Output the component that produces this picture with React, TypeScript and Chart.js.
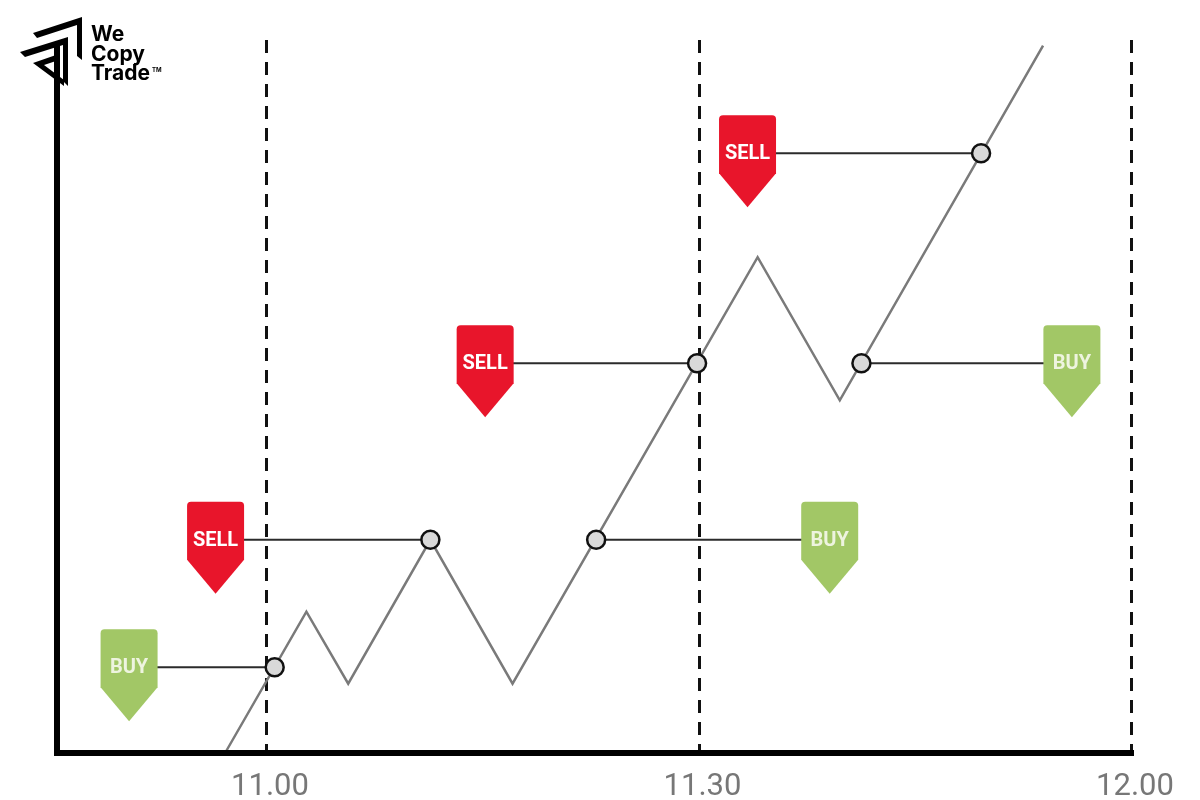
import React, { useEffect, useRef } from "react";
import { Chart, registerables } from "chart.js";

Chart.register(...registerables);

// Time axis in minutes since midnight (11.00 = 660)
const tickValues = [660, 690, 720];
const tickLabels = ["11.00", "11.30", "12.00"];

// Price path (vertices of the zig-zag)
const priceTimes = [657.2, 662.8, 665.7, 671.4, 677.1, 694.1, 699.8, 713.9];
const priceValues = [0, 19.7, 9.6, 29.8, 9.6, 69.5, 49.4, 99.2];

// Signals
const signalTypes = ["BUY", "SELL", "BUY", "SELL", "BUY", "SELL"];
const signalLevels = [11.9, 29.8, 29.8, 54.6, 54.6, 84.1];
const fillTimes = [660.6, 671.4, 682.9, 689.9, 701.3, 709.6];
const tagTimes = [650.5, 656.5, 699.1, 675.2, 715.9, 693.4];

const RED = "#e8152b";
const GREEN = "#a2c766";

const overlayPlugin = {
  id: "overlay",
  beforeDatasetsDraw(chart: any) {
    const { ctx, chartArea, scales } = chart;
    const x = scales.x;
    ctx.save();
    ctx.strokeStyle = "#111";
    ctx.lineWidth = 3;
    ctx.setLineDash([13, 9]);
    tickValues.forEach((v) => {
      const px = Math.round(x.getPixelForValue(v)) + 0.5;
      ctx.beginPath();
      ctx.moveTo(px, chartArea.top);
      ctx.lineTo(px, chartArea.bottom);
      ctx.stroke();
    });
    ctx.restore();
  },
  afterDatasetsDraw(chart: any) {
    const { ctx, chartArea, scales } = chart;
    const x = scales.x;
    const y = scales.y;
    ctx.save();
    // axes
    ctx.fillStyle = "#000";
    ctx.fillRect(chartArea.left - 3, chartArea.bottom - 2, chartArea.right - chartArea.left + 6, 6);
    ctx.fillRect(chartArea.left - 3, 46, 6, chartArea.bottom - 46 + 4);
    // tags
    signalTypes.forEach((type, i) => {
      const cx = x.getPixelForValue(tagTimes[i]);
      const ly = y.getPixelForValue(signalLevels[i]);
      const hw = 28.5;
      const top = ly - 38;
      const rb = top + 58;
      const tip = top + 92;
      const r = 4;
      ctx.beginPath();
      ctx.moveTo(cx - hw, rb);
      ctx.lineTo(cx - hw, top + r);
      ctx.quadraticCurveTo(cx - hw, top, cx - hw + r, top);
      ctx.lineTo(cx + hw - r, top);
      ctx.quadraticCurveTo(cx + hw, top, cx + hw, top + r);
      ctx.lineTo(cx + hw, rb);
      ctx.lineTo(cx, tip);
      ctx.closePath();
      ctx.fillStyle = type === "BUY" ? GREEN : RED;
      ctx.fill();
      ctx.fillStyle = type === "BUY" ? "#eef4df" : "#ffffff";
      ctx.font = "bold 20px Roboto";
      ctx.textAlign = "center";
      ctx.textBaseline = "middle";
      ctx.fillText(type, cx, ly + 1);
    });
    ctx.restore();
  },
  afterDraw(chart: any) {
    const { ctx, scales } = chart;
    const x = scales.x;
    ctx.save();
    // tick labels
    ctx.fillStyle = "#777";
    ctx.font = "31px Roboto";
    ctx.textAlign = "center";
    ctx.textBaseline = "middle";
    tickValues.forEach((v, i) => {
      ctx.fillText(tickLabels[i], x.getPixelForValue(v) + 4, 787);
    });
    // logo
    ctx.fillStyle = "#000";
    const poly = (pts: number[][]) => {
      ctx.beginPath();
      ctx.moveTo(pts[0][0], pts[0][1]);
      for (let k = 1; k < pts.length; k++) ctx.lineTo(pts[k][0], pts[k][1]);
      ctx.closePath();
      ctx.fill();
    };
    poly([[33, 33], [82, 17], [82, 60], [77, 56], [77, 25], [37, 38]]);
    poly([[20, 52], [68, 37], [68, 86], [63, 81], [63, 45], [25, 57]]);
    poly([[33, 63], [56, 55], [56, 61], [44, 65], [64, 80], [64, 86]]);
    ctx.font = "bold 21px Inter";
    ctx.textAlign = "left";
    ctx.textBaseline = "alphabetic";
    ctx.fillText("We", 91, 41);
    ctx.fillText("Copy", 91, 61);
    ctx.fillText("Trade", 91, 80);
    ctx.font = "bold 6px Inter";
    ctx.fillText("TM", 152, 72);
    ctx.restore();
  },
};

export default function App() {
  const ref = useRef<HTMLCanvasElement | null>(null);
  useEffect(() => {
    if (!ref.current) return;
    const priceData = priceTimes.map((t, i) => ({ x: t, y: priceValues[i] }));
    const fillData = fillTimes.map((t, i) => ({ x: t, y: signalLevels[i] }));
    const signalSets = signalTypes.map((type, i) => ({
      label: type + " " + (i + 1),
      data: [
        { x: tagTimes[i], y: signalLevels[i] },
        { x: fillTimes[i], y: signalLevels[i] },
      ],
      showLine: true,
      borderColor: "#2b2b2b",
      borderWidth: 2,
      pointRadius: 0,
      order: 2,
    }));
    const chart = new Chart(ref.current, {
      type: "scatter",
      data: {
        datasets: [
          {
            label: "Price",
            data: priceData,
            showLine: true,
            borderColor: "#7a7a7a",
            borderWidth: 2.5,
            pointRadius: 0,
            order: 3,
          },
          ...signalSets,
          {
            label: "Entries",
            data: fillData,
            showLine: false,
            pointRadius: 9,
            pointBackgroundColor: "#d9d9d9",
            pointBorderColor: "#111",
            pointBorderWidth: 2.5,
            order: 0,
          },
        ] as any,
      },
      options: {
        animation: false,
        responsive: false,
        clip: false as any,
        layout: { padding: { left: 57, right: 69, top: 40, bottom: 48 } },
        plugins: { legend: { display: false }, tooltip: { enabled: false } },
        scales: {
          x: { type: "linear", min: 645.5, max: 720, display: false },
          y: { type: "linear", min: 0, max: 100, display: false },
        },
      },
      plugins: [overlayPlugin],
    });
    return () => chart.destroy();
  }, []);
  return (
    <div style={{ position: "absolute", left: 0, top: 0, width: 1200, height: 800, background: "#fff" }}>
      <canvas ref={ref} width={1200} height={800} />
    </div>
  );
}
